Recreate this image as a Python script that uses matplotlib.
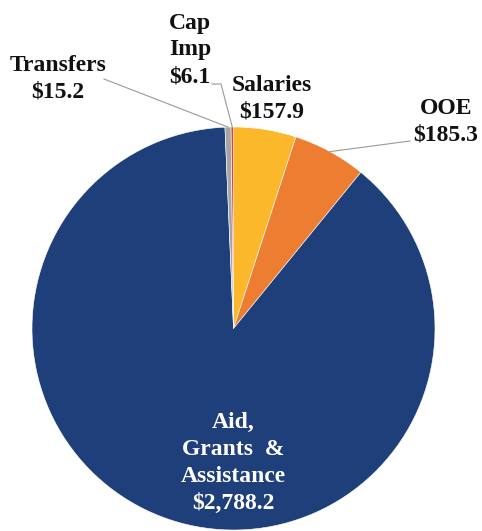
import numpy as np
import matplotlib.pyplot as plt

categories = ['Salaries', 'OOE', 'Aid, Grants & Assistance', 'Transfers', 'Cap Imp']
values = [157.9, 185.3, 2788.2, 15.2, 6.1]
labels = ['Salaries\n$157.9', 'OOE\n$185.3', 'Aid,\nGrants  &\nAssistance\n$2,788.2',
          'Transfers\n$15.2', 'Cap\nImp\n$6.1']
colors = ['#FBB82B', '#ED7D31', '#1F3F7A', '#A5A5A5', '#E8432A']

W, H = 482, 531
fig = plt.figure(figsize=(W / 100, H / 100), dpi=100)
ax = fig.add_axes([0, 0, 1, 1])

cx, cy, r = 233.5, H - 328.5, 201.5
wedges, _ = ax.pie(values, colors=colors, startangle=90, counterclock=False,
                   center=(cx, cy), radius=r,
                   wedgeprops=dict(edgecolor='white', linewidth=0.4))
ax.set_xlim(0, W)
ax.set_ylim(0, H)
ax.set_aspect('equal')
ax.axis('off')

font = dict(family='Liberation Serif', weight='bold', fontsize=17, linespacing=1.36)


def edge_point(w, frac=1.0):
    t = np.deg2rad((w.theta1 + w.theta2) / 2)
    return cx + r * frac * np.cos(t), cy + r * frac * np.sin(t)


# text positions in pixel coords from the top-left
ax.text(272, H - 99, labels[0], ha='center', va='center', color='#111111', **font)
ax.text(446, H - 122, labels[1], ha='center', va='center', color='#111111', **font)
ax.text(233, H - 463, labels[2], ha='center', va='center', color='white', **font)
ax.text(58, H - 79, labels[3], ha='center', va='center', color='#111111', **font)
ax.text(190, H - 50, labels[4], ha='center', va='center', color='#111111', **font)

lc = dict(color='#9a9a9a', lw=0.8)
# leader lines
x, y = edge_point(wedges[1])
ax.plot([x, 410], [y, H - 141], **lc)
x, y = edge_point(wedges[3])
ax.plot([x, 104], [y, H - 79], **lc)
x, y = edge_point(wedges[4])
ax.plot([x, 221, 212], [y, H - 84, H - 84], **lc)

fig.savefig('out.png', dpi=100)
